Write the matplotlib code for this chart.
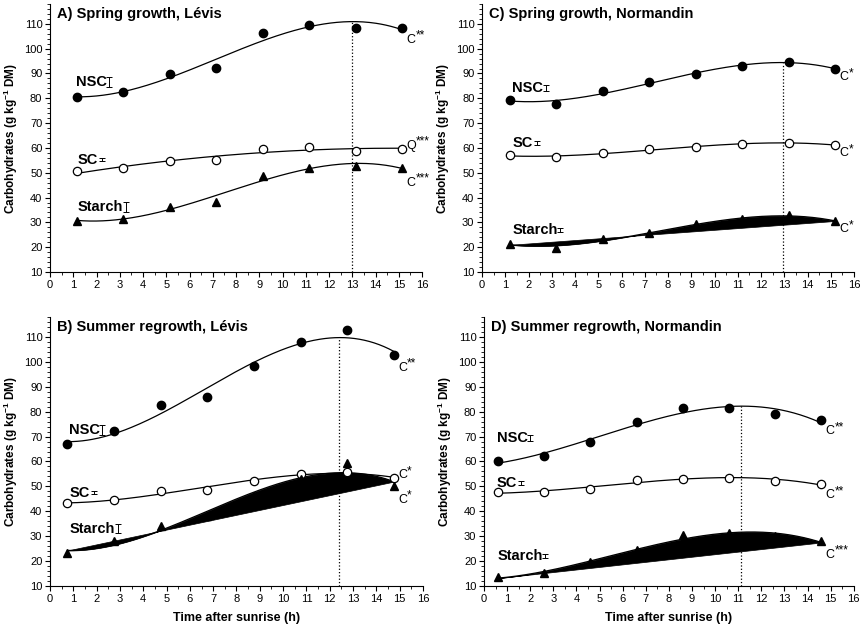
import numpy as np
import matplotlib.pyplot as plt
from matplotlib.ticker import MultipleLocator

plt.rcParams['font.family'] = ['Liberation Sans', 'DejaVu Sans']
plt.rcParams['mathtext.fontset'] = 'custom'
plt.rcParams['mathtext.rm'] = 'Liberation Sans'
plt.rcParams['mathtext.bf'] = 'Liberation Sans:bold'

# sampling times (h after sunrise)
time_a = [1.15, 3.15, 5.15, 7.15, 9.15, 11.15, 13.15, 15.15]
time_b = [0.75, 2.75, 4.75, 6.75, 8.75, 10.75, 12.75, 14.75]
time_c = [1.2, 3.2, 5.2, 7.2, 9.2, 11.2, 13.2, 15.2]
time_d = [0.6, 2.6, 4.6, 6.6, 8.6, 10.6, 12.6, 14.6]

# A) Spring growth, Levis
nsc_a = [80.7, 82.4, 89.7, 92.1, 106.5, 109.5, 108.5, 108.5]
sc_a = [50.5, 51.8, 54.6, 55.2, 59.5, 60.4, 58.9, 59.7]
starch_a = [30.7, 31.5, 36.1, 38.4, 48.7, 52.1, 52.6, 52.1]

# B) Summer regrowth, Levis
nsc_b = [66.9, 72.1, 82.6, 85.9, 98.3, 107.8, 112.7, 102.6]
sc_b = [43.2, 44.5, 48.2, 48.7, 52.3, 54.9, 55.8, 53.3]
starch_b = [23.2, 27.9, 34.3, 38.0, 46.0, 53.0, 59.2, 50.2]

# C) Spring growth, Normandin
nsc_c = [79.4, 77.7, 82.9, 86.5, 89.8, 92.9, 94.8, 91.8]
sc_c = [57.0, 56.2, 57.8, 59.6, 60.4, 61.5, 62.0, 61.2]
starch_c = [21.3, 19.7, 23.3, 25.8, 29.5, 31.2, 32.8, 30.6]

# D) Summer regrowth, Normandin
nsc_d = [60.1, 62.3, 67.8, 75.7, 81.5, 81.5, 79.1, 76.5]
sc_d = [47.6, 47.7, 49.1, 52.6, 53.1, 53.4, 52.2, 50.9]
starch_d = [13.5, 15.4, 19.8, 24.5, 30.3, 31.2, 30.0, 28.1]

# significance labels (fit type + stars)
sig_a = ['C**', 'Q***', 'C***']
sig_b = ['C**', 'C*', 'C*']
sig_c = ['C*', 'C*', 'C*']
sig_d = ['C**', 'C**', 'C***']

# standard error bars shown next to the labels
se_a = [2.0, 0.6, 2.1]
se_b = [2.0, 0.6, 1.8]
se_c = [1.2, 0.8, 0.8]
se_d = [1.3, 0.8, 0.8]

peak_time = {'A': 13.0, 'B': 12.4, 'C': 12.95, 'D': 11.1}

titles = {'A': 'A) Spring growth, Lévis', 'B': 'B) Summer regrowth, Lévis',
          'C': 'C) Spring growth, Normandin', 'D': 'D) Summer regrowth, Normandin'}


def fit_curve(x, y, kind):
    deg = 2 if kind.startswith('Q') else 3
    coef = np.polyfit(x, y, deg)
    xs = np.linspace(x[0], x[-1], 200)
    return xs, np.polyval(coef, xs), coef


fig = plt.figure(figsize=(8.62, 6.33), dpi=100)
positions = {
    'A': [0.058, 0.5703, 0.4316, 0.4234],
    'B': [0.058, 0.0742, 0.4327, 0.4250],
    'C': [0.5592, 0.5703, 0.4316, 0.4234],
    'D': [0.5615, 0.0742, 0.4290, 0.4250],
}
panels = {
    'A': (time_a, nsc_a, sc_a, starch_a, sig_a, se_a, False),
    'B': (time_b, nsc_b, sc_b, starch_b, sig_b, se_b, True),
    'C': (time_c, nsc_c, sc_c, starch_c, sig_c, se_c, True),
    'D': (time_d, nsc_d, sc_d, starch_d, sig_d, se_d, True),
}
# label placement for NSC, SC, Starch
label_pos = {
    'A': [(1.1, 86.6), (1.2, 55.3), (1.2, 36.2)],
    'B': [(0.8, 72.5), (0.85, 47.5), (0.85, 33.0)],
    'C': [(1.3, 84.0), (1.3, 62.0), (1.3, 27.0)],
    'D': [(0.55, 69.5), (0.55, 51.5), (0.6, 22.0)],
}
star_offsets = {
    'A': [(3, -9), (3, 2), (3, -11)],
    'B': [(3, -9), (3, 2), (3, -10)],
    'C': [(3, -6), (3, -6), (3, -6)],
    'D': [(3, -8), (3, -8), (3, -10)],
}
bar_gap = [1.45, 1.05, 2.05]

for key in ['A', 'B', 'C', 'D']:
    ax = fig.add_axes(positions[key])
    t, nsc, sc, starch, sig, se, filled = panels[key]
    x = np.array(t)

    xs, nsc_fit, nsc_coef = fit_curve(x, nsc, sig[0])
    ax.plot(xs, nsc_fit, color='black', lw=0.9, zorder=2)
    xs, sc_fit, _ = fit_curve(x, sc, sig[1])
    ax.plot(xs, sc_fit, color='black', lw=0.9, zorder=2)
    xs, st_fit, _ = fit_curve(x, starch, sig[2])
    ax.plot(xs, st_fit, color='black', lw=0.9, zorder=2)
    if filled:
        chord = np.interp(xs, [xs[0], xs[-1]], [st_fit[0], st_fit[-1]])
        ax.fill_between(xs, st_fit, chord, color='black', lw=0.5, zorder=2)

    ax.plot(x, nsc, 'o', color='black', ms=6, zorder=3)
    ax.plot(x, sc, 'o', mfc='white', mec='black', mew=0.9, ms=6, zorder=3)
    ax.plot(x, starch, '^', color='black', ms=6, zorder=3)

    px = peak_time[key]
    ax.vlines(px, 10, np.polyval(nsc_coef, px), colors='black', linestyles=':', lw=0.9)

    for name, (lx, ly), s, gap in zip(['NSC', 'SC', 'Starch'], label_pos[key], se, bar_gap):
        ax.text(lx, ly, name, fontsize=10.5, fontweight='bold', va='center', ha='left')
        ax.errorbar(lx + gap, ly, yerr=s, color='black', lw=0.7, capsize=2.5, capthick=0.7)

    for vals, s, off in zip([nsc, sc, starch], sig, star_offsets[key]):
        ax.annotate(s[0], (x[-1], vals[-1]), xytext=off, textcoords='offset points',
                    fontsize=9, ha='left', va='center')
        ax.annotate(s[1:], (x[-1], vals[-1]), xytext=(off[0] + 6.5, off[1] + 3),
                    textcoords='offset points', fontsize=8.5, ha='left', va='center')

    ax.text(0.3, 114, titles[key], fontsize=10.5, fontweight='bold', va='center', ha='left')

    ax.set_xlim(0, 16)
    ax.set_ylim(10, 118)
    ax.xaxis.set_major_locator(MultipleLocator(1))
    ax.xaxis.set_minor_locator(MultipleLocator(0.5))
    ax.set_yticks(np.arange(10, 111, 10))
    ax.yaxis.set_minor_locator(MultipleLocator(2))
    ax.tick_params(which='major', direction='out', length=3.5, width=0.8, labelsize=8, pad=2)
    ax.tick_params(which='minor', direction='out', length=2, width=0.6)
    for side in ['top', 'right']:
        ax.spines[side].set_visible(False)
    ax.spines['left'].set_linewidth(0.8)
    ax.spines['bottom'].set_linewidth(0.8)
    ax.set_ylabel(r'Carbohydrates (g kg$^{\mathbf{-1}}$ DM)', fontsize=8.5, fontweight='bold', labelpad=3)
    if key in ['B', 'D']:
        ax.set_xlabel('Time after sunrise (h)', fontsize=9, fontweight='bold', labelpad=6)

fig.savefig('out.png', dpi=100)
